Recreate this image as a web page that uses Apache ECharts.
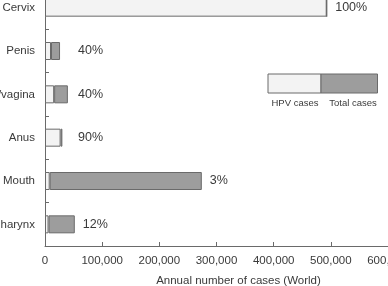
<!DOCTYPE html>
<html>
<head>
<meta charset="utf-8">
<script src="https://cdn.jsdelivr.net/npm/echarts@6/dist/echarts.min.js"></script>
<style>
	html,body{margin:0;padding:0;background:#fff;}
	#chart{width:388px;height:286px;}
</style>
</head>
<body>
<div id="chart"></div>
<script>
// cancer sites, top to bottom
var sites = ['Cervix', 'Penis', 'Vulva/vagina', 'Anus', 'Mouth', 'Oropharynx'];
// annual number of cases (World)
var totalCases = [492800, 26300, 40000, 30400, 274300, 52100];
var hpvCases = [492800, 10500, 16000, 27300, 8200, 6200];
var hpvShare = ['100%', '40%', '40%', '90%', '3%', '12%'];
var xTicks = [0, 100000, 200000, 300000, 400000, 500000, 600000];

var lightFill = '#f3f3f3';
var darkFill = '#9d9d9d';
var edge = '#6a6a6a';
var txt = '#3a3a3a';
var font = '"Liberation Sans", Arial, sans-serif';

var otherCases = [];
for(var i=0;i<totalCases.length;i++){
	otherCases.push(totalCases[i]-hpvCases[i]);
}

function fmt(v){
	return String(v).replace(/\B(?=(\d{3})+(?!\d))/g, ',');
}

var node = echarts.init(document.getElementById('chart'));

var option = {
	animation:false,
	backgroundColor:'#fff',
	grid:{left:45, right:0, top:-14, bottom:40, containLabel:false, outerBoundsMode:'none'},
	xAxis:{
		type:'value',
		min:xTicks[0],
		max:xTicks[xTicks.length-1],
		interval:xTicks[1]-xTicks[0],
		name:'Annual number of cases (World)',
		nameLocation:'middle',
		nameGap:29,
		nameTextStyle:{fontFamily:font, fontSize:11.5, color:txt, padding:[0,0,0,44]},
		axisLine:{show:true, lineStyle:{color:edge, width:1}},
		axisTick:{show:true, inside:true, length:4, lineStyle:{color:edge}},
		axisLabel:{fontFamily:font, fontSize:11.5, color:txt, margin:9, formatter:fmt, showMaxLabel:true, hideOverlap:false},
		splitLine:{show:false}
	},
	yAxis:{
		type:'category',
		inverse:true,
		data:sites,
		axisLine:{show:true, lineStyle:{color:edge, width:1}},
		axisTick:{show:true, inside:true, length:4, lineStyle:{color:edge}},
		axisLabel:{fontFamily:font, fontSize:11.5, color:txt, margin:10}
	},
	series:[
		{
			name:'HPV cases',
			type:'bar',
			stack:'cases',
			barWidth:18,
			data:hpvCases,
			itemStyle:{color:lightFill, borderColor:edge, borderWidth:1}
		},
		{
			name:'Total cases',
			type:'bar',
			stack:'cases',
			barWidth:18,
			data:otherCases,
			itemStyle:{color:darkFill, borderColor:edge, borderWidth:1},
			label:{
				show:true,
				position:'right',
				distance:12,
				fontFamily:font,
				fontSize:12.5,
				color:txt,
				formatter:function(p){ return hpvShare[p.dataIndex]; }
			}
		}
	],
	graphic:[
		{type:'rect', shape:{x:268, y:74, width:53, height:19}, style:{fill:lightFill, stroke:edge, lineWidth:1}},
		{type:'rect', shape:{x:321, y:74, width:56.5, height:19}, style:{fill:darkFill, stroke:edge, lineWidth:1}},
		{type:'text', x:295, y:103.5, style:{text:'HPV cases', fill:txt, font:'9.5px '+font, align:'center', verticalAlign:'middle'}},
		{type:'text', x:353, y:103.5, style:{text:'Total cases', fill:txt, font:'9.5px '+font, align:'center', verticalAlign:'middle'}}
	]
};
node.setOption(option);

// keep the short bars' percentages lined up in one column, as in the figure
var minLabelX = 78;
var labelled = [];
for(var j=0;j<totalCases.length;j++){
	var end = node.convertToPixel({gridIndex:0}, [totalCases[j], j])[0];
	var d = Math.max(8, minLabelX - end);
	labelled.push({value:otherCases[j], label:{distance:d}});
}
node.setOption({series:[{}, {data:labelled}]});
</script>
</body>
</html>
